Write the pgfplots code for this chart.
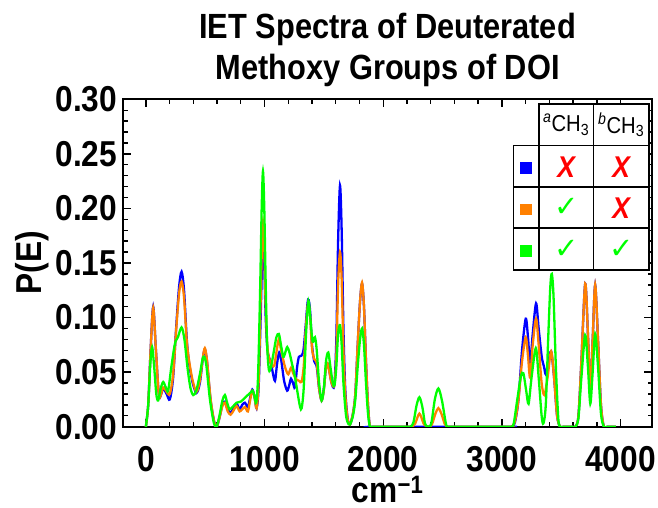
\documentclass[border=0pt]{standalone}
\usepackage{fontspec}
\setmainfont{Liberation Sans}[FakeStretch=0.88]
\newfontfamily\symfont{DejaVu Sans}
\usepackage{pgfplots}
\pgfplotsset{compat=1.18}
\usetikzlibrary{calc}

\definecolor{mblue}{rgb}{0,0,1}
\definecolor{morange}{rgb}{1,0.5,0}
\definecolor{mgreen}{rgb}{0,1,0}
\definecolor{mred}{rgb}{1,0,0}

\newcommand{\bigbf}{\fontsize{36}{40}\selectfont\bfseries}

\begin{document}
\begin{tikzpicture}
\begin{axis}[
  name=ax,
  scale only axis,
  width=528.7pt, height=327.4pt,
  xmin=-190, xmax=4265,
  ymin=0, ymax=0.30,
  xtick={0,1000,...,4000},
  ytick={0,0.05,...,0.30},
  minor x tick num=4,
  minor y tick num=4,
  tick align=inside,
  major tick length=8pt,
  minor tick length=4.5pt,
  every tick/.style={black, line width=1.4pt},
  axis line style={line width=2.2pt},
  /pgf/number format/assume math mode=true,
  xticklabel style={font=\bigbf, anchor=north, inner sep=0pt, yshift=-19.5pt,
    /pgf/number format/1000 sep={}},
  yticklabel style={font=\bigbf, anchor=east, inner sep=0pt, xshift=-6pt,
    /pgf/number format/.cd, fixed, fixed zerofill, precision=2},
  xlabel={cm\textsuperscript{−1}},
  xlabel style={font=\bigbf, at={(rel axis cs:0.5,0)}, anchor=base, yshift=-75.5pt, inner sep=0pt},
  ylabel={P(E)},
  ylabel style={font=\bigbf, at={(rel axis cs:0,0.5)}, anchor=center, yshift=91.3pt, inner sep=0pt},
  every axis plot/.append style={line width=2.3pt, smooth, no markers},
]

% deuterated none
\addplot[mblue] coordinates {
(0,0) (20,0.02) (40,0.07) (62,0.110) (85,0.07) (112,0.028) (146,0.035) (175,0.030)
(202,0.025) (230,0.045) (255,0.090) (280,0.128) (301,0.142) (322,0.125) (345,0.080)
(365,0.058) (395,0.040) (427,0.031) (455,0.040) (480,0.062) (497,0.071) (515,0.060)
(545,0.025) (575,0.005) (596,0) (620,0.008) (645,0.020) (666,0.023) (690,0.016)
(714,0.013) (740,0.017) (765,0.021) (790,0.016) (812,0.020) (835,0.022) (860,0.018)
(880,0.027) (897,0.034) (915,0.028) (933,0.017) (950,0.035) (965,0.090) (978,0.145)
(987,0.168) (997,0.150) (1010,0.100) (1025,0.070) (1046,0.061) (1065,0.052) (1088,0.042)
(1106,0.058) (1124,0.068) (1142,0.060) (1165,0.042) (1191,0.033) (1208,0.038) (1223,0.044)
(1240,0.040) (1256,0.036) (1275,0.055) (1290,0.064) (1310,0.065) (1328,0.070) (1345,0.090)
(1362,0.113) (1372,0.116) (1385,0.105) (1400,0.075) (1419,0.060) (1440,0.055) (1460,0.035)
(1481,0.024) (1500,0.035) (1518,0.055) (1530,0.058) (1545,0.052) (1565,0.040) (1588,0.038)
(1605,0.080) (1620,0.170) (1636,0.221) (1650,0.180) (1665,0.090) (1680,0.035) (1700,0.008)
(1720,0.002) (1745,0.012) (1765,0.030) (1785,0.075) (1805,0.115) (1822,0.131) (1838,0.110)
(1855,0.060) (1872,0.020) (1889,0) (1920,0) (3050,0) (3080,0) (3110,0.004) (3140,0.025)
(3170,0.070) (3201,0.099) (3220,0.082) (3238,0.058) (3260,0.085) (3288,0.113) (3310,0.090)
(3336,0.064) (3355,0.055) (3370,0.048) (3390,0.058) (3415,0.069) (3440,0.045) (3465,0.010)
(3491,0) (3520,0) (3590,0) (3620,0) (3645,0.010) (3670,0.060) (3702,0.131) (3725,0.085)
(3745,0.035) (3765,0.080) (3786,0.130) (3810,0.080) (3835,0.020) (3860,0) (3890,0) (3960,0)
};

% a-CH3 deuterated
\addplot[morange] coordinates {
(0,0) (20,0.02) (40,0.07) (62,0.109) (85,0.07) (112,0.028) (146,0.036) (175,0.032)
(202,0.030) (230,0.048) (255,0.088) (280,0.122) (301,0.133) (322,0.118) (345,0.078)
(365,0.060) (395,0.042) (427,0.032) (455,0.042) (480,0.063) (497,0.072) (515,0.061)
(545,0.026) (575,0.005) (596,0) (620,0.008) (645,0.019) (666,0.022) (690,0.014)
(714,0.011) (740,0.015) (765,0.019) (790,0.014) (812,0.016) (835,0.018) (860,0.014)
(880,0.025) (897,0.033) (915,0.028) (933,0.017) (950,0.040) (965,0.105) (978,0.165)
(987,0.188) (997,0.168) (1010,0.110) (1025,0.072) (1046,0.060) (1065,0.056) (1082,0.056)
(1100,0.068) (1120,0.080) (1140,0.070) (1172,0.055) (1200,0.048) (1223,0.054) (1245,0.048)
(1270,0.043) (1292,0.042) (1312,0.041) (1330,0.055) (1348,0.090) (1364,0.111) (1372,0.113)
(1385,0.100) (1400,0.072) (1419,0.062) (1440,0.058) (1460,0.035) (1481,0.024) (1500,0.034)
(1515,0.052) (1530,0.058) (1545,0.051) (1565,0.040) (1588,0.038) (1605,0.065) (1620,0.130)
(1636,0.160) (1650,0.135) (1665,0.070) (1680,0.030) (1700,0.007) (1720,0.002) (1745,0.012)
(1765,0.030) (1785,0.075) (1805,0.115) (1822,0.132) (1838,0.110) (1855,0.060) (1872,0.020)
(1889,0) (1920,0) (2210,0) (2240,0) (2270,0.003) (2290,0.009) (2305,0.012) (2320,0.009)
(2345,0.002) (2380,0) (2410,0.002) (2440,0.012) (2465,0.017) (2490,0.012) (2520,0.002)
(2540,0) (2570,0) (3050,0) (3080,0) (3110,0.005) (3140,0.025) (3170,0.060) (3201,0.082)
(3220,0.065) (3238,0.045) (3260,0.075) (3288,0.099) (3310,0.075) (3335,0.040) (3358,0.029)
(3385,0.045) (3415,0.069) (3440,0.045) (3465,0.010) (3491,0) (3520,0) (3590,0) (3620,0)
(3645,0.010) (3670,0.060) (3702,0.131) (3725,0.085) (3745,0.034) (3765,0.080) (3786,0.130)
(3810,0.080) (3835,0.020) (3860,0) (3890,0) (3960,0)
};

% a-CH3 and b-CH3 deuterated
\addplot[mgreen] coordinates {
(0,0) (20,0.02) (38,0.058) (53,0.073) (70,0.055) (88,0.030) (104,0.024) (125,0.035)
(146,0.041) (168,0.036) (188,0.033) (215,0.055) (245,0.076) (270,0.082) (301,0.091)
(325,0.080) (350,0.055) (375,0.036) (399,0.029) (425,0.033) (455,0.048) (478,0.062)
(492,0.064) (510,0.056) (540,0.025) (572,0.004) (596,0) (620,0.010) (645,0.024)
(666,0.029) (685,0.022) (705,0.016) (730,0.018) (765,0.022) (800,0.023) (849,0.028)
(880,0.031) (900,0.033) (915,0.028) (930,0.022) (945,0.045) (962,0.120) (976,0.200)
(987,0.234) (998,0.200) (1010,0.130) (1022,0.075) (1037,0.052) (1055,0.055) (1080,0.070)
(1100,0.082) (1121,0.085) (1140,0.074) (1158,0.064) (1175,0.068) (1191,0.073) (1210,0.068)
(1235,0.056) (1256,0.046) (1280,0.030) (1300,0.018) (1313,0.017) (1330,0.035) (1350,0.085)
(1366,0.112) (1374,0.114) (1388,0.097) (1405,0.078) (1425,0.082) (1440,0.070) (1460,0.040)
(1481,0.024) (1500,0.035) (1518,0.060) (1537,0.068) (1555,0.055) (1575,0.040) (1590,0.038)
(1605,0.055) (1620,0.085) (1636,0.093) (1650,0.075) (1665,0.040) (1685,0.012) (1700,0.004)
(1720,0.002) (1745,0.010) (1765,0.025) (1785,0.055) (1805,0.080) (1822,0.090) (1838,0.075)
(1855,0.040) (1872,0.012) (1889,0) (1920,0) (2200,0) (2230,0) (2255,0.004) (2280,0.019)
(2305,0.027) (2330,0.018) (2352,0.003) (2375,0) (2405,0.003) (2435,0.025) (2465,0.035)
(2495,0.024) (2530,0.002) (2550,0) (2580,0) (3050,0) (3080,0) (3100,0.003) (3130,0.025)
(3160,0.046) (3181,0.049) (3205,0.033) (3225,0.021) (3250,0.045) (3286,0.072) (3310,0.045)
(3335,0.010) (3350,0.003) (3370,0.020) (3390,0.080) (3408,0.128) (3421,0.140) (3435,0.120)
(3455,0.055) (3475,0.008) (3490,0) (3520,0) (3590,0) (3620,0) (3645,0.008) (3670,0.045)
(3702,0.084) (3725,0.055) (3745,0.021) (3765,0.050) (3786,0.085) (3810,0.055) (3835,0.012)
(3860,0) (3890,0) (3960,0)
};
\end{axis}

% title
\node[anchor=base, font=\fontsize{35}{40}\selectfont\bfseries, inner sep=0pt]
  at ($(ax.north)+(0,61pt)$) {IET Spectra of Deuterated};
\node[anchor=base, font=\fontsize{35}{40}\selectfont\bfseries, inner sep=0pt]
  at ($(ax.north)+(0,19.3pt)$) {Methoxy Groups of DOI};

% legend table
\begin{scope}[shift={(ax.north east)}, x=1pt, y=1pt]
  \fill[white] (-138.7,-46.4) rectangle (-3,-170.7);
  \fill[white] (-113,-4.7) rectangle (-3,-46.4);
  \draw[line width=1.6pt] (-138.7,-46.4) rectangle (-3,-170.7);
  \draw[line width=1.6pt] (-113,-4.7) rectangle (-3,-46.4);
  \draw[line width=1.6pt] (-113,-4.7) -- (-113,-170.7)
    (-58.7,-4.7) -- (-58.7,-170.7)
    (-138.7,-88) -- (-3,-88)
    (-138.7,-129) -- (-3,-129);
  \begin{scope}[every node/.style={inner sep=0pt, font=\fontsize{23}{26}\selectfont}]
    \node at (-85.85,-25.55) {\textsuperscript{\itshape a}CH\textsubscript{3}};
    \node at (-30.85,-25.55) {\textsuperscript{\itshape b}CH\textsubscript{3}};
    \fill[mblue] (-131.65,-74.8) rectangle ++(11.6,11.6);
    \fill[morange] (-131.65,-116.1) rectangle ++(11.6,11.6);
    \fill[mgreen] (-131.65,-157.4) rectangle ++(11.6,11.6);
    \node[text=mred, font=\fontsize{30}{30}\selectfont\bfseries\itshape] at (-85.85,-68) {X};
    \node[text=mred, font=\fontsize{30}{30}\selectfont\bfseries\itshape] at (-30.85,-68) {X};
    \node[text=mgreen, font=\symfont\fontsize{29}{29}\selectfont] at (-85.85,-108.5) {✓};
    \node[text=mred, font=\fontsize{30}{30}\selectfont\bfseries\itshape] at (-30.85,-109.3) {X};
    \node[text=mgreen, font=\symfont\fontsize{29}{29}\selectfont] at (-85.85,-149.85) {✓};
    \node[text=mgreen, font=\symfont\fontsize{29}{29}\selectfont] at (-30.85,-149.85) {✓};
  \end{scope}
\end{scope}

\pgfresetboundingbox
\path ($(ax.south west)+(-123.3pt,-81.3pt)$) rectangle ($(ax.north east)+(6pt,99.3pt)$);
\end{tikzpicture}
\end{document}
